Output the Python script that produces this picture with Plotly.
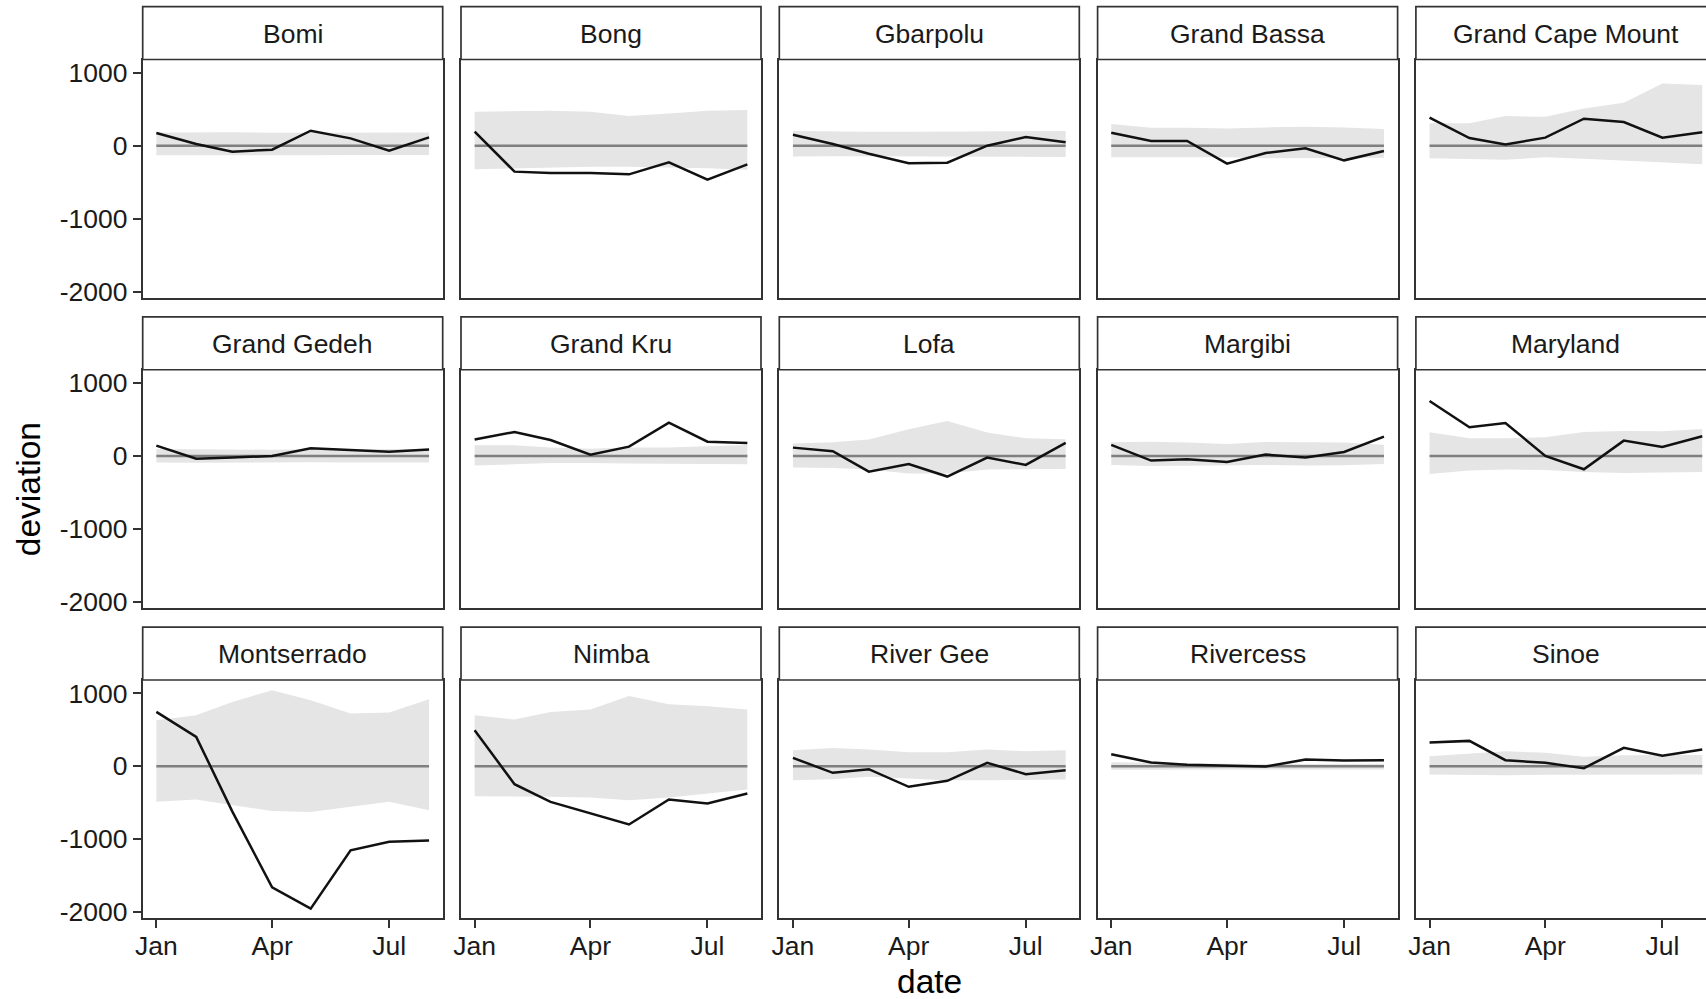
import pandas as pd
import plotly.graph_objects as go

# ---------------- data ----------------
regions = ["Bomi", "Bong", "Gbarpolu", "Grand Bassa", "Grand Cape Mount",
           "Grand Gedeh", "Grand Kru", "Lofa", "Margibi", "Maryland",
           "Montserrado", "Nimba", "River Gee", "Rivercess", "Sinoe"]

months = ["2015-01-01", "2015-02-01", "2015-03-01", "2015-04-01",
          "2015-05-01", "2015-06-01", "2015-07-01", "2015-08-01"]

deviation = [
    [174, 23, -82, -55, 205, 100, -68, 114],          # Bomi
    [192, -356, -374, -374, -393, -228, -466, -256],  # Bong
    [151, 23, -110, -242, -233, 0, 119, 46],          # Gbarpolu
    [178, 64, 64, -247, -100, -37, -201, -73],        # Grand Bassa
    [384, 105, 18, 110, 370, 324, 110, 183],          # Grand Cape Mount
    [142, -37, -23, 0, 105, 78, 59, 87],              # Grand Gedeh
    [224, 329, 219, 18, 128, 457, 196, 178],          # Grand Kru
    [114, 64, -215, -110, -283, -23, -123, 178],      # Lofa
    [151, -64, -46, -82, 18, -23, 55, 265],           # Margibi
    [753, 393, 452, 0, -183, 210, 123, 269],          # Maryland
    [744, 402, -620, -1662, -1954, -1155, -1037, -1018],  # Montserrado
    [493, -247, -489, -648, -799, -457, -511, -374],  # Nimba
    [114, -91, -41, -283, -201, 46, -110, -55],       # River Gee
    [164, 50, 18, 9, -5, 91, 78, 82],                 # Rivercess
    [324, 347, 82, 46, -27, 251, 142, 228],           # Sinoe
]

band_upper = [
    [180, 185, 183, 178, 180, 178, 183, 180],
    [466, 475, 479, 466, 406, 443, 479, 489],
    [200, 190, 190, 190, 190, 192, 195, 200],
    [297, 247, 247, 237, 251, 260, 251, 228],
    [306, 306, 406, 397, 511, 589, 854, 831],
    [95, 90, 85, 85, 90, 95, 100, 95],
    [146, 146, 114, 100, 114, 114, 132, 151],
    [169, 187, 224, 365, 479, 320, 242, 228],
    [187, 196, 183, 164, 192, 183, 183, 155],
    [324, 242, 242, 256, 329, 342, 338, 370],
    [630, 699, 881, 1041, 904, 721, 735, 918],
    [699, 639, 744, 776, 963, 849, 822, 776],
    [219, 251, 228, 192, 192, 228, 205, 219],
    [55, 45, 40, 35, 30, 30, 35, 35],
    [137, 178, 205, 183, 128, 151, 155, 155],
]

band_lower = [
    [-130, -125, -128, -130, -130, -128, -125, -128],
    [-324, -311, -297, -288, -288, -297, -311, -330],
    [-150, -145, -140, -145, -148, -150, -152, -155],
    [-160, -160, -160, -160, -173, -173, -164, -164],
    [-174, -183, -192, -160, -178, -210, -228, -256],
    [-90, -95, -95, -90, -85, -90, -95, -90],
    [-132, -114, -96, -96, -105, -114, -114, -114],
    [-160, -164, -187, -242, -242, -187, -178, -178],
    [-123, -137, -128, -128, -123, -132, -128, -110],
    [-247, -201, -187, -192, -219, -233, -224, -219],
    [-489, -457, -534, -616, -630, -557, -489, -603],
    [-411, -411, -420, -429, -466, -429, -374, -320],
    [-192, -178, -146, -169, -192, -192, -192, -183],
    [-50, -45, -40, -40, -40, -40, -45, -45],
    [-114, -123, -123, -119, -110, -114, -114, -114],
]

y_tickvals = [-2000, -1000, 0, 1000]
y_ticktext = ["-2000", "-1000", "0", "1000"]
x_tickvals = ["2015-01-01", "2015-04-01", "2015-07-01"]
x_ticktext = ["Jan", "Apr", "Jul"]

# ---------------- layout geometry (pixels) ----------------
W, H = 1706, 999
PANEL_W = 300.0
COL_LEFT0, COL_STEP = 142.7, 318.3
ROW_STEP = 310.25
STRIP_TOP0, PANEL_TOP0, PANEL_BOT0 = 6.7, 59.5, 297.7
Y_RANGE = [-2085, 1182]

FONT = "Liberation Sans, Arial, Helvetica, sans-serif"
BORDER = "#333333"
TXT = "#1a1a1a"

t_first = pd.Timestamp(months[0])
t_last = pd.Timestamp(months[-1])
span_days = (t_last - t_first).days
pad = pd.Timedelta(days=span_days * 0.05)
x_start = t_first - pad
full_span = (t_last + pad) - x_start

fig = go.Figure()
shapes = []
annotations = []
layout_axes = {}

for i, name in enumerate(regions):
    r, c = divmod(i, 5)
    k = i + 1
    xs = "x" if k == 1 else f"x{k}"
    ys = "y" if k == 1 else f"y{k}"
    xa = "xaxis" if k == 1 else f"xaxis{k}"
    ya = "yaxis" if k == 1 else f"yaxis{k}"

    left = COL_LEFT0 + c * COL_STEP
    right = min(left + PANEL_W, W)
    top = PANEL_TOP0 + r * ROW_STEP
    bot = PANEL_BOT0 + r * ROW_STEP
    strip_top = STRIP_TOP0 + r * ROW_STEP

    frac = (right - left) / PANEL_W
    x_end = x_start + full_span * frac

    # ribbon
    fig.add_trace(go.Scatter(
        x=months + months[::-1],
        y=band_upper[i] + band_lower[i][::-1],
        fill="toself", fillcolor="#e5e5e5", mode="lines",
        line=dict(width=0, color="rgba(0,0,0,0)"),
        hoverinfo="skip", showlegend=False, xaxis=xs, yaxis=ys))
    # zero reference line
    fig.add_trace(go.Scatter(
        x=months, y=[0] * len(months), mode="lines",
        line=dict(color="#7f7f7f", width=2.5),
        hoverinfo="skip", showlegend=False, xaxis=xs, yaxis=ys))
    # deviation line
    fig.add_trace(go.Scatter(
        x=months, y=deviation[i], mode="lines",
        line=dict(color="#111111", width=2.5),
        showlegend=False, xaxis=xs, yaxis=ys, name=name))

    layout_axes[xa] = dict(
        type="date",
        domain=[left / W, right / W],
        range=[x_start.isoformat(), x_end.isoformat()],
        anchor=ys, automargin=False,
        showline=True, linecolor=BORDER, linewidth=1.7, mirror=True,
        showgrid=False, zeroline=False,
        ticks="outside" if r == 2 else "",
        ticklen=8, tickwidth=1.7, tickcolor=BORDER,
        showticklabels=(r == 2),
        ticklabelstandoff=-5,
        tickvals=x_tickvals, ticktext=x_ticktext,
        tickfont=dict(family=FONT, size=26.5, color=TXT),
        fixedrange=True,
    )
    layout_axes[ya] = dict(
        domain=[1 - bot / H, 1 - top / H],
        range=Y_RANGE,
        anchor=xs, automargin=False,
        showline=True, linecolor=BORDER, linewidth=1.7,
        mirror=(c != 4),
        showgrid=False, zeroline=False,
        ticks="outside" if c == 0 else "",
        ticklen=8, tickwidth=1.7, tickcolor=BORDER,
        showticklabels=(c == 0),
        tickvals=y_tickvals, ticktext=y_ticktext,
        tickfont=dict(family=FONT, size=26.5, color=TXT),
        fixedrange=True,
    )

    # facet strip
    shapes.append(dict(
        type="rect", xref="paper", yref="paper",
        x0=left / W, x1=(left + PANEL_W) / W,
        y0=1 - top / H, y1=1 - strip_top / H,
        fillcolor="white", line=dict(color=BORDER, width=1.7), layer="above"))
    annotations.append(dict(
        text=name, xref="paper", yref="paper",
        x=(left + PANEL_W / 2) / W, y=1 - ((strip_top + top) / 2 + 0.8) / H,
        xanchor="center", yanchor="middle", showarrow=False,
        font=dict(family=FONT, size=26.5, color=TXT)))

# axis titles
annotations.append(dict(
    text="date", xref="paper", yref="paper",
    x=(COL_LEFT0 + (W + 10 - COL_LEFT0) / 2) / W, y=1 - 981 / H,
    xanchor="center", yanchor="middle", showarrow=False,
    font=dict(family=FONT, size=33.5, color="black")))
annotations.append(dict(
    text="deviation", xref="paper", yref="paper",
    x=29.2 / W, y=1 - 489 / H, textangle=-90,
    xanchor="center", yanchor="middle", showarrow=False,
    font=dict(family=FONT, size=33.5, color="black")))

fig.update_layout(
    width=W, height=H,
    margin=dict(l=0, r=0, t=0, b=0, pad=0, autoexpand=False),
    paper_bgcolor="white", plot_bgcolor="white",
    showlegend=False,
    shapes=shapes, annotations=annotations,
    font=dict(family=FONT, color=TXT),
    **layout_axes,
)

fig.write_html("out.html")
